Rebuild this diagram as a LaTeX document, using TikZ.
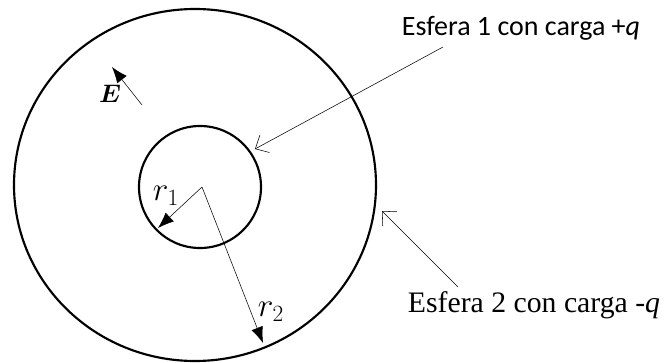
\RequirePackage{fix-cm}
\documentclass[tikz,border=0pt]{standalone}
\usepackage{amsmath,amssymb,bm}
\usepackage{fontspec}
\setmainfont{Liberation Serif}
\newfontfamily\calib{Carlito}
\usepackage{tikz}
\usetikzlibrary{arrows.meta}

\begin{document}
\begin{tikzpicture}[x=0.75pt,y=0.75pt]
  \useasboundingbox (0,0) rectangle (665,362);
  \coordinate (c) at (202,175);
  % spheres
  \draw[line width=1.6pt] (195,177) ellipse (181 and 176);
  \draw[line width=1.6pt] (200,175) circle (61);
  % radii
  \coordinate (r1end) at (158,134);
  \coordinate (r2end) at (263,19);
  \draw[-{Latex[length=12pt,width=9pt]}] (c)--(r1end);
  \draw[-{Latex[length=12pt,width=9pt]}] (c)--(r2end);
  \node (r1) at (166,166){\fontsize{25}{27}\selectfont $r_1$};
  \node (r2) at (271,50){\fontsize{25}{27}\selectfont $r_2$};
  % field
  \coordinate (etail) at (142,257);
  \coordinate (etip) at (112,295);
  \draw[-{Latex[length=12pt,width=9pt]}] (etail)--(etip);
  \node (e) at (110,268){\fontsize{19}{21}\selectfont $\bm{E}$};
  % labels
  \node (lab1) at (521,334){\calib\fontsize{21}{24}\selectfont Esfera 1 con carga +\textit{q}};
  \node (lab2) at (534,57){\fontsize{22.3}{26}\selectfont Esfera 2 con carga -\textit{q}};
  \coordinate (a1s) at (443,315);
  \coordinate (a1e) at (255,213);
  \coordinate (a2s) at (458,75);
  \coordinate (a2e) at (382,151);
  \draw[-{Straight Barb[length=8pt,width=15pt]}] (a1s)--(a1e);
  \draw[-{Straight Barb[length=8pt,width=15pt]}] (a2s)--(a2e);
\end{tikzpicture}
\end{document}
